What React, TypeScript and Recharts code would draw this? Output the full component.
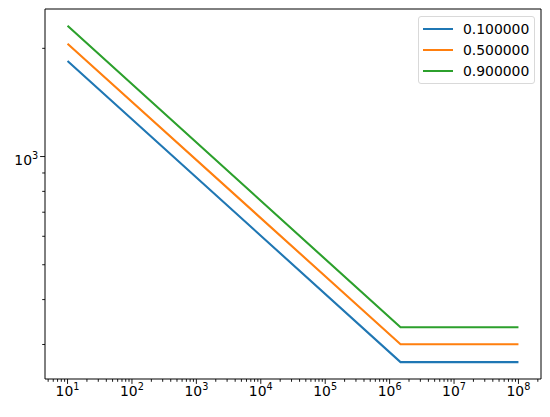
import React from 'react';
import { LineChart, Line, XAxis, YAxis, ReferenceArea } from 'recharts';

// x positions (log scale): start, knee, end
const xValues = [10, 1.476e6, 1e8];

// one series per parameter value
const seriesNames = ['0.100000', '0.500000', '0.900000'];
const series01 = [1845, 268, 268];
const series05 = [2060, 300.6, 300.6];
const series09 = [2310, 335, 335];

const xTicks = [
  5, 6, 7, 8, 9,
  10, 20, 30, 40, 50, 60, 70, 80, 90,
  100, 200, 300, 400, 500, 600, 700, 800, 900,
  1e3, 2e3, 3e3, 4e3, 5e3, 6e3, 7e3, 8e3, 9e3,
  1e4, 2e4, 3e4, 4e4, 5e4, 6e4, 7e4, 8e4, 9e4,
  1e5, 2e5, 3e5, 4e5, 5e5, 6e5, 7e5, 8e5, 9e5,
  1e6, 2e6, 3e6, 4e6, 5e6, 6e6, 7e6, 8e6, 9e6,
  1e7, 2e7, 3e7, 4e7, 5e7, 6e7, 7e7, 8e7, 9e7,
  1e8, 2e8,
];
const yTicks = [300, 400, 500, 600, 700, 800, 900, 1000, 2000];

const colors = ['#1f77b4', '#ff7f0e', '#2ca02c'];
const keys = ['s01', 's05', 's09'];

const data = xValues.map((x, i) => ({
  x,
  s01: series01[i],
  s05: series05[i],
  s09: series09[i],
}));

const xDomain = [4.467, 2.239e8];
const yDomain = [240.5, 2573];

const font = 'DejaVu Sans, sans-serif';

const isMajor = (v: number) => {
  const l = Math.log10(v);
  return Math.abs(l - Math.round(l)) < 1e-9;
};

const XTick = ({ x, y, payload }: any) => {
  const v = payload.value;
  const major = isMajor(v);
  return (
    <g>
      <line x1={x} x2={x} y1={y} y2={y + (major ? 4.9 : 2.8)} stroke="#000" strokeWidth={0.9} />
      {major && (
        <text x={x} y={y + 17} textAnchor="middle" fontFamily={font} fontSize={13.9} fill="#000">
          10<tspan dy={-6} fontSize={9.7}>{Math.round(Math.log10(v))}</tspan>
        </text>
      )}
    </g>
  );
};

const YTick = ({ x, y, payload }: any) => {
  const v = payload.value;
  const major = isMajor(v);
  return (
    <g>
      <line x1={x} x2={x - (major ? 4.9 : 2.8)} y1={y} y2={y} stroke="#000" strokeWidth={0.9} />
      {major && (
        <text x={x - 13} y={y + 8} textAnchor="end" fontFamily={font} fontSize={13.9} fill="#000">
          10
        </text>
      )}
      {major && (
        <text x={x - 13} y={y + 2} textAnchor="start" fontFamily={font} fontSize={9.7} fill="#000">
          {Math.round(Math.log10(v))}
        </text>
      )}
    </g>
  );
};

export default function App() {
  return (
    <div style={{ position: 'absolute', left: 0, top: 0, width: 550, height: 417, background: '#fff' }}>
      <LineChart width={550} height={417} data={data} margin={{ top: 9, right: 9, bottom: 0, left: 0 }}>
        <XAxis
          dataKey="x"
          type="number"
          scale="log"
          domain={xDomain}
          allowDataOverflow
          ticks={xTicks}
          interval={0}
          tick={<XTick />}
          tickLine={false}
          tickSize={0}
          tickMargin={0}
          axisLine={false}
          height={38}
        />
        <YAxis
          type="number"
          scale="log"
          domain={yDomain}
          allowDataOverflow
          ticks={yTicks}
          interval={0}
          tick={<YTick />}
          tickLine={false}
          tickSize={0}
          tickMargin={0}
          axisLine={false}
          width={45}
        />
        <ReferenceArea
          x1={xDomain[0]}
          x2={xDomain[1]}
          y1={yDomain[0]}
          y2={yDomain[1]}
          fill="none"
          stroke="#000"
          strokeWidth={1}
          fillOpacity={0}
        />
        {keys.map((k, i) => (
          <Line
            key={k}
            dataKey={k}
            name={seriesNames[i]}
            type="linear"
            stroke={colors[i]}
            strokeWidth={2.1}
            dot={false}
            isAnimationActive={false}
          />
        ))}
      </LineChart>
      <div
        style={{
          position: 'absolute',
          left: 418,
          top: 16,
          width: 115,
          height: 66,
          border: '1px solid #d9d9d9',
          borderRadius: 3,
          background: 'rgba(255,255,255,0.8)',
          fontFamily: font,
          fontSize: 13.9,
        }}
      >
        {seriesNames.map((n, i) => (
          <div
            key={n}
            style={{ position: 'absolute', left: 0, top: 2 + i * 20.8, height: 20, width: '100%' }}
          >
            <div
              style={{
                position: 'absolute',
                left: 4,
                top: 9,
                width: 30,
                height: 2,
                background: colors[i],
              }}
            />
            <span style={{ position: 'absolute', left: 44, top: 1, lineHeight: '18px', color: '#000' }}>{n}</span>
          </div>
        ))}
      </div>
    </div>
  );
}
